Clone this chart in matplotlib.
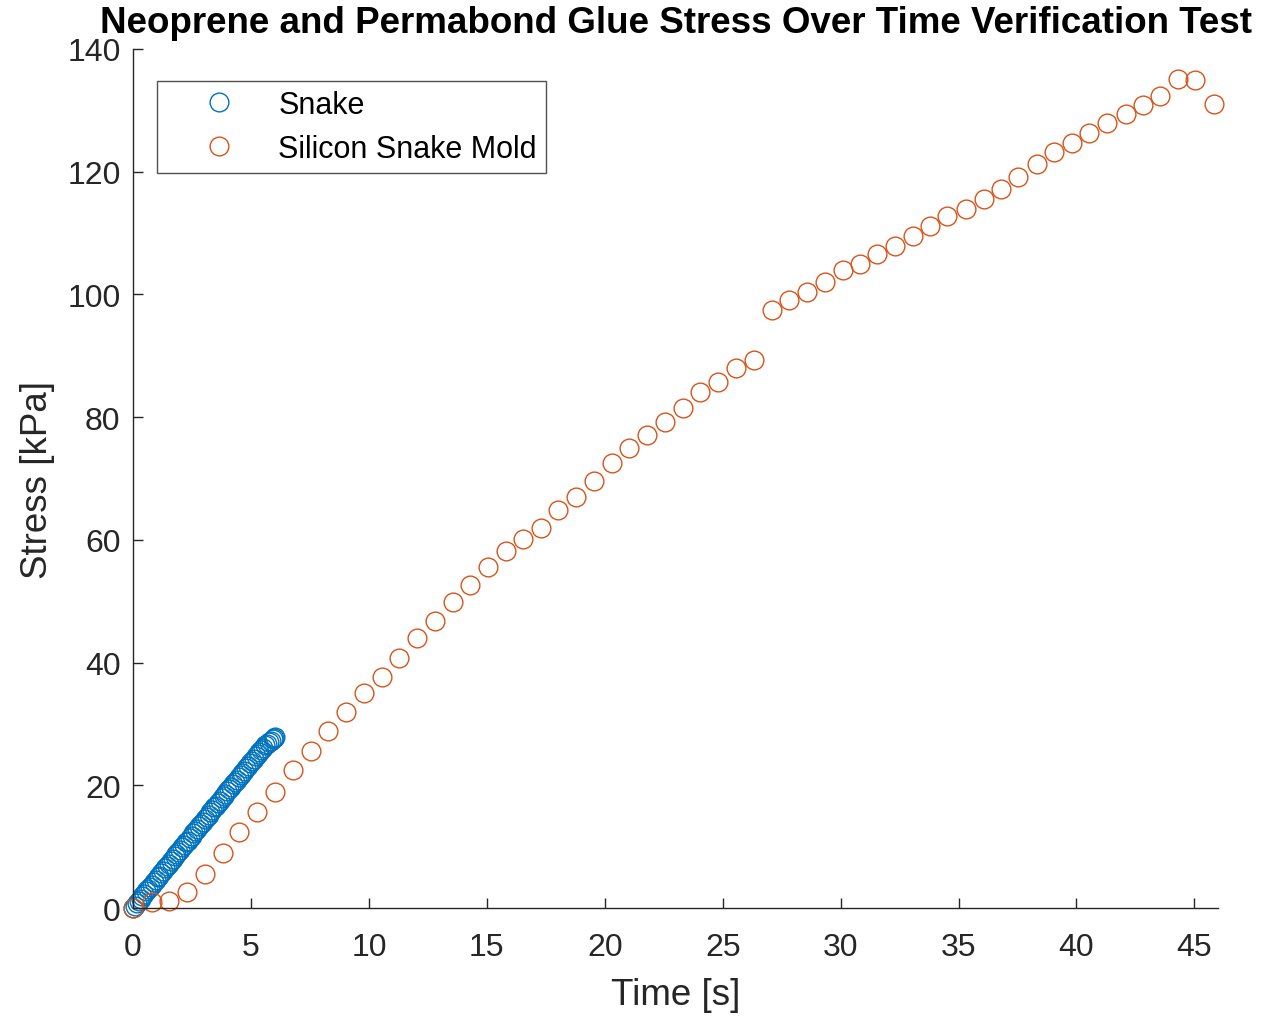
import matplotlib
matplotlib.use("Agg")
import matplotlib.pyplot as plt

plt.rcParams['font.family'] = ['Liberation Sans', 'DejaVu Sans']

# Snake (blue) - dense readings
snake_time = [0.00, 0.08, 0.16, 0.24, 0.32, 0.40, 0.48, 0.56, 0.64, 0.72,
              0.80, 0.88, 0.96, 1.04, 1.12, 1.20, 1.28, 1.36, 1.44, 1.52,
              1.60, 1.68, 1.76, 1.84, 1.92, 2.00, 2.08, 2.16, 2.24, 2.32,
              2.40, 2.48, 2.56, 2.64, 2.72, 2.80, 2.88, 2.96, 3.04, 3.12,
              3.20, 3.28, 3.36, 3.44, 3.52, 3.60, 3.68, 3.76, 3.84, 3.92,
              4.00, 4.08, 4.16, 4.24, 4.32, 4.40, 4.48, 4.56, 4.64, 4.72,
              4.80, 4.88, 4.96, 5.04, 5.12, 5.20, 5.28, 5.36, 5.44, 5.52,
              5.60, 5.68, 5.76, 5.84, 5.92, 5.98, 6.04]
snake_stress = [0.0, 0.4, 0.8, 1.2, 1.5, 1.9, 2.3, 2.7, 3.1, 3.4,
                3.8, 4.2, 4.6, 5.0, 5.3, 5.7, 6.1, 6.5, 6.9, 7.2,
                7.6, 8.0, 8.4, 8.8, 9.1, 9.5, 9.9, 10.3, 10.7, 11.0,
                11.4, 11.8, 12.2, 12.6, 12.9, 13.3, 13.7, 14.1, 14.5, 14.8,
                15.2, 15.6, 16.0, 16.4, 16.7, 17.1, 17.5, 17.9, 18.3, 18.6,
                19.0, 19.4, 19.8, 20.2, 20.5, 20.9, 21.3, 21.7, 22.0, 22.4,
                22.8, 23.2, 23.6, 23.9, 24.3, 24.7, 25.1, 25.4, 25.8, 26.1,
                26.5, 26.8, 27.1, 27.3, 27.5, 27.7, 27.9]

# Silicon Snake Mold (orange)
mold_time = [0.00, 0.80, 1.53, 2.29, 3.05, 3.81, 4.49, 5.25, 6.02, 6.78,
             7.54, 8.26, 9.03, 9.79, 10.55, 11.27, 12.03, 12.80, 13.56, 14.28,
             15.04, 15.81, 16.53, 17.29, 18.01, 18.77, 19.53, 20.30, 21.02, 21.78,
             22.54, 23.31, 24.03, 24.79, 25.55, 26.31, 27.08, 27.80, 28.56, 29.32,
             30.08, 30.81, 31.53, 32.29, 33.05, 33.81, 34.53, 35.30, 36.06, 36.82,
             37.54, 38.31, 39.03, 39.79, 40.55, 41.31, 42.08, 42.80, 43.56, 44.32,
             45.04, 45.81]
mold_stress = [0.0, 1.0, 1.1, 2.6, 5.5, 9.0, 12.4, 15.6, 18.9, 22.5,
               25.6, 28.8, 31.9, 35.0, 37.6, 40.7, 44.0, 46.8, 49.9, 52.6,
               55.6, 58.2, 60.1, 61.9, 64.9, 67.0, 69.6, 72.5, 75.0, 77.1,
               79.2, 81.5, 84.1, 85.7, 88.0, 89.3, 97.5, 99.1, 100.4, 102.0,
               104.0, 105.0, 106.6, 107.9, 109.5, 111.1, 112.8, 113.9, 115.5, 117.2,
               119.1, 121.3, 123.2, 124.7, 126.3, 127.9, 129.4, 130.9, 132.3, 135.1,
               134.9, 131.0]

x_ticks = [0, 5, 10, 15, 20, 25, 30, 35, 40, 45]
y_ticks = [0, 20, 40, 60, 80, 100, 120, 140]

fig = plt.figure(figsize=(12.73, 10.2), dpi=100)
ax = fig.add_axes([0.1045, 0.1088, 0.8523, 0.8422])

ax.plot(snake_time, snake_stress, 'o', mfc='none', mec='#0072BD', ms=13.5, mew=1.0,
        label='Snake', clip_on=False)
ax.plot(mold_time, mold_stress, 'o', mfc='none', mec='#D95319', ms=13.5, mew=1.0,
        label='Silicon Snake Mold', clip_on=False)

ax.set_xlim(0, 46)
ax.set_ylim(0, 140)
ax.set_xticks(x_ticks)
ax.set_yticks(y_ticks)

for side in ['top', 'right']:
    ax.spines[side].set_visible(False)
for side in ['left', 'bottom']:
    ax.spines[side].set_color('#262626')
    ax.spines[side].set_linewidth(1.0)
ax.tick_params(direction='in', length=7, width=1.0, color='#262626',
               labelcolor='#262626', labelsize=23)
ax.tick_params(axis='x', pad=17)
ax.tick_params(axis='y', pad=9)

ax.set_xlabel('Time [s]', fontsize=26.5, color='#262626', labelpad=11)
ax.set_ylabel('Stress [kPa]', fontsize=26.5, color='#262626', labelpad=9)
ax.set_title('Neoprene and Permabond Glue Stress Over Time Verification Test',
             fontsize=26.5, fontweight='bold', color='black', pad=12)

leg = ax.legend(loc='upper left', bbox_to_anchor=(0.0225, 0.963), fontsize=22,
                frameon=True, fancybox=False, edgecolor='#262626',
                borderpad=0.3, handletextpad=0.25, handlelength=3.4,
                labelspacing=0.45, borderaxespad=0)
leg.get_frame().set_linewidth(1.0)

fig.savefig('out.png', dpi=100)
